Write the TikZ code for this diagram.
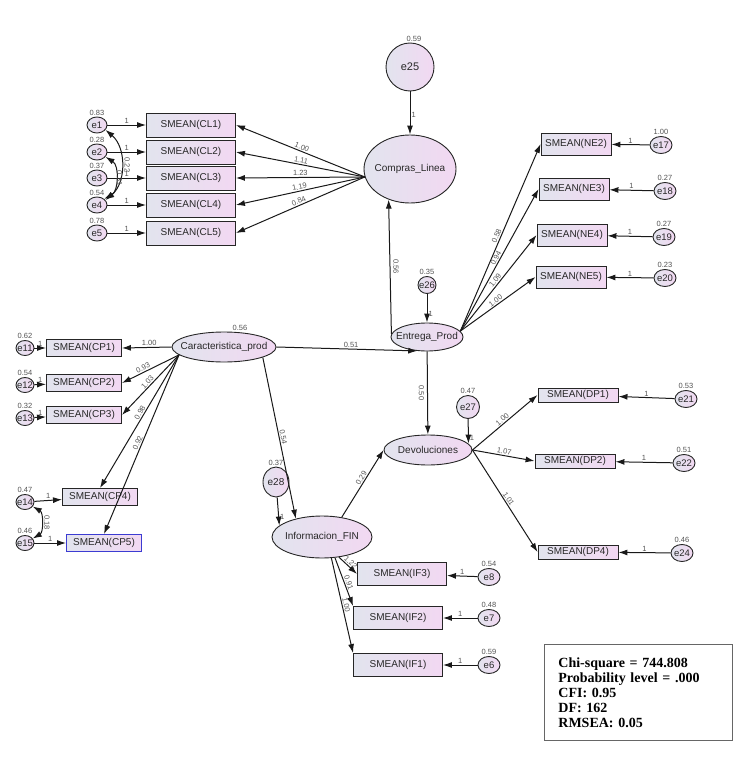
\documentclass[tikz,border=0pt]{standalone}
\usepackage{fontspec}
\setmainfont{Liberation Sans}
\newfontfamily\statfont{Liberation Serif}
\usetikzlibrary{arrows.meta,shapes.geometric}
\definecolor{fillL}{RGB}{226,228,238}
\definecolor{fillR}{RGB}{242,216,242}
\definecolor{txt}{RGB}{40,40,40}
\definecolor{cpblue}{RGB}{60,60,210}
\newcommand{\inl}[1]{\makebox[0pt]{#1}}
\begin{document}
\begin{tikzpicture}[x=1pt,y=-1pt,
    >={Latex[length=9pt,width=6pt]},
    obs/.style={rectangle,draw=black!85,line width=0.9pt,left color=fillL,right color=fillR,inner sep=0pt,text=txt,font=\fontsize{10}{12}\selectfont},
    clbox/.style={obs,minimum width=89pt,minimum height=24pt},
    cpbox/.style={obs,minimum width=75pt,minimum height=17pt},
    nebox/.style={obs,minimum width=70pt,minimum height=22pt},
    dpbox/.style={obs,minimum width=80pt,minimum height=14pt},
    ifbox/.style={obs,minimum width=89pt,minimum height=23pt},
    lat/.style={ellipse,draw=black!85,line width=0.9pt,left color=fillL,right color=fillR,inner sep=0pt,text=txt,font=\fontsize{10}{12}\selectfont},
    errs/.style={lat,minimum width=20pt,minimum height=16pt,font=\fontsize{9.5}{11}\selectfont},
    errr/.style={lat,minimum width=22pt,minimum height=17pt,font=\fontsize{9.5}{11}\selectfont},
    arr/.style={->,draw=black!90,line width=1pt},
    cov/.style={<->,draw=black!90,line width=1pt},
    num/.style={font=\fontsize{7.5}{8}\selectfont,text=txt!80,inner sep=1pt},
    var/.style={num}]
  \useasboundingbox (0,0) rectangle (736,768);

  \node[lat,minimum width=92pt,minimum height=68pt] (compras) at (410,169) {\inl{Compras\_Linea}};
  \node[lat,circle,minimum size=48pt,font=\fontsize{11}{12}\selectfont,label={[var,xshift=4pt]above:0.59}] (e25) at (410,67) {e25};
  \draw[arr] (e25) -- node[num,right,pos=.55]{1} (compras);

  \node[clbox] (cl1) at (191,125) {SMEAN(CL1)};
  \node[clbox] (cl2) at (191,152) {SMEAN(CL2)};
  \node[clbox] (cl3) at (191,178) {SMEAN(CL3)};
  \node[clbox] (cl4) at (191,205) {SMEAN(CL4)};
  \node[clbox] (cl5) at (191,233) {SMEAN(CL5)};
  \node[errs,label={[var]above:0.83}] (e1) at (97,125) {e1};
  \node[errs,label={[var]above:0.28}] (e2) at (97,152) {e2};
  \node[errs,label={[var]above:0.37}] (e3) at (97,178) {e3};
  \node[errs,label={[var]above:0.54}] (e4) at (97,205) {e4};
  \node[errs,label={[var]above:0.78}] (e5) at (97,233) {e5};
  \draw[arr] (e1) -- node[num,above]{1} (cl1);
  \draw[arr] (e2) -- node[num,above]{1} (cl2);
  \draw[arr] (e3) -- node[num,above]{1} (cl3);
  \draw[arr] (e4) -- node[num,above]{1} (cl4);
  \draw[arr] (e5) -- node[num,above]{1} (cl5);
  \draw[cov] (e1.-30) to[bend left=50] node[num,xshift=6pt,rotate=-90]{0.22} (e4.30);
  \draw[cov] (e2.-30) to[bend left=60] node[num,xshift=4pt,rotate=-90]{0.31} (e4.40);
  \draw[arr] (compras.190) -- node[num,above,sloped]{1.00} (cl1.east);
  \draw[arr] (compras.190) -- node[num,above,sloped]{1.11} (cl2.east);
  \draw[arr] (compras.190) -- node[num,above,sloped]{1.23} (cl3.east);
  \draw[arr] (compras.190) -- node[num,above,sloped]{1.19} (cl4.east);
  \draw[arr] (compras.190) -- node[num,above,sloped]{0.84} (cl5.east);

  \node[lat,minimum width=104pt,minimum height=30pt,label={[var,xshift=16pt]above:0.56}] (caract) at (224,347) {\inl{Caracteristica\_prod}};
  \node[cpbox] (cp1) at (84,348) {SMEAN(CP1)};
  \node[cpbox] (cp2) at (84,383) {SMEAN(CP2)};
  \node[cpbox] (cp3) at (84,415) {SMEAN(CP3)};
  \node[cpbox] (cp4) at (100,497) {SMEAN(CP4)};
  \node[cpbox,draw=cpblue] (cp5) at (104,543) {SMEAN(CP5)};
  \node[errs,minimum width=18pt,minimum height=15pt,label={[var]above:0.62}] (e11) at (25,348) {\inl{e11}};
  \node[errs,minimum width=18pt,minimum height=15pt,label={[var]above:0.54}] (e12) at (25,385) {\inl{e12}};
  \node[errs,minimum width=18pt,minimum height=15pt,label={[var]above:0.32}] (e13) at (25,418) {\inl{e13}};
  \node[errs,minimum width=18pt,minimum height=15pt,label={[var]above:0.47}] (e14) at (25,502) {\inl{e14}};
  \node[errs,minimum width=18pt,minimum height=15pt,label={[var]above:0.46}] (e15) at (25,543) {\inl{e15}};
  \draw[arr] (e11) -- node[num,above]{1} (cp1);
  \draw[arr] (e12) -- node[num,above]{1} (cp2);
  \draw[arr] (e13) -- node[num,above]{1} (cp3);
  \draw[arr] (e14) -- node[num,above]{1} (cp4);
  \draw[arr] (e15) -- node[num,above]{1} (cp5);
  \draw[cov] (e14.-30) to[bend left=60] node[num,xshift=6pt,rotate=-90]{0.18} (e15.30);
  \draw[arr] (caract.west) -- node[num,above,pos=.45]{1.00} (cp1.east);
  \draw[arr] (caract.190) -- node[num,above,sloped,pos=.6]{0.93} (cp2.east);
  \draw[arr] (caract.190) -- node[num,above,sloped,pos=.5]{1.03} (cp3.east);
  \draw[arr] (caract.190) -- node[num,above,sloped,pos=.45]{0.98} (cp4.north);
  \draw[arr] (caract.190) -- node[num,above,sloped,pos=.5]{0.92} (cp5.north);

  \node[lat,minimum width=72pt,minimum height=28pt] (entrega) at (427,337) {\inl{Entrega\_Prod}};
  \node[errs,minimum width=18pt,minimum height=17pt,label={[var]above:0.35}] (e26) at (427,285) {\inl{e26}};
  \draw[arr] (e26) -- node[num,right,pos=.7]{1} (entrega);
  \draw[arr] (caract.east) -- node[num,above,pos=.53]{0.51} (entrega.235);
  \draw[arr] (entrega.175) -- node[num,xshift=6pt,rotate=-90]{0.56} (compras.235);
  \node[nebox] (ne2) at (576,144) {SMEAN(NE2)};
  \node[nebox] (ne3) at (574,189) {SMEAN(NE3)};
  \node[nebox] (ne4) at (572,235) {SMEAN(NE4)};
  \node[nebox] (ne5) at (571,277) {SMEAN(NE5)};
  \node[errr,label={[var]above:1.00}] (e17) at (661,145) {\inl{e17}};
  \node[errr,label={[var]above:0.27}] (e18) at (665,191) {\inl{e18}};
  \node[errr,label={[var]above:0.27}] (e19) at (664,237) {\inl{e19}};
  \node[errr,label={[var]above:0.23}] (e20) at (665,278) {\inl{e20}};
  \draw[arr] (e17) -- node[num,above]{1} (ne2);
  \draw[arr] (e18) -- node[num,above]{1} (ne3);
  \draw[arr] (e19) -- node[num,above]{1} (ne4);
  \draw[arr] (e20) -- node[num,above]{1} (ne5);
  \draw[arr] (entrega.10) -- node[num,above,sloped]{0.58} (ne2.west);
  \draw[arr] (entrega.10) -- node[num,above,sloped]{0.94} (ne3.west);
  \draw[arr] (entrega.10) -- node[num,above,sloped]{1.09} (ne4.west);
  \draw[arr] (entrega.10) -- node[num,above,sloped]{1.00} (ne5.west);

  \node[lat,minimum width=88pt,minimum height=30pt] (devol) at (428,450) {\inl{Devoluciones}};
  \node[errs,minimum width=23pt,minimum height=23pt,label={[var]above:0.47}] (e27) at (468,407) {\inl{e27}};
  \draw[arr] (e27) -- node[num,right,pos=.75]{1} (devol.9);
  \draw[arr] (entrega) -- node[num,xshift=-6pt,rotate=-90]{0.50} (devol);
  \node[dpbox] (dp1) at (578,395) {SMEAN(DP1)};
  \node[dpbox] (dp2) at (575,461) {SMEAN(DP2)};
  \node[dpbox] (dp4) at (578,552) {SMEAN(DP4)};
  \node[errr,label={[var]above:0.53}] (e21) at (686,399) {\inl{e21}};
  \node[errr,label={[var]above:0.51}] (e22) at (684,463) {\inl{e22}};
  \node[errr,label={[var]above:0.46}] (e24) at (682,553) {\inl{e24}};
  \draw[arr] (e21) -- node[num,above]{1} (dp1);
  \draw[arr] (e22) -- node[num,above]{1} (dp2);
  \draw[arr] (e24) -- node[num,above]{1} (dp4);
  \draw[arr] (devol.east) -- node[num,above,sloped]{1.00} (dp1.west);
  \draw[arr] (devol.east) -- node[num,above,sloped]{1.07} (dp2.west);
  \draw[arr] (devol.east) -- node[num,above,sloped]{1.01} (dp4.west);

  \node[lat,minimum width=100pt,minimum height=42pt] (infofin) at (322,537) {\inl{Informacion\_FIN}};
  \node[errs,minimum width=26pt,minimum height=30pt,font=\fontsize{10}{12}\selectfont,label={[var]above:0.37}] (e28) at (276,482) {\inl{e28}};
  \draw[arr] (e28) -- node[num,right,pos=.7]{1} (infofin.165);
  \draw[arr] (caract.-15) -- node[num,above,sloped]{0.54} (infofin.145);
  \draw[arr] (infofin.45) -- node[num,above,sloped,pos=.55]{0.29} (devol.west);
  \node[ifbox] (if3) at (402,574) {SMEAN(IF3)};
  \node[ifbox] (if2) at (398,618) {SMEAN(IF2)};
  \node[ifbox] (if1) at (398,665) {SMEAN(IF1)};
  \node[errr,label={[var]above:0.54}] (e8) at (489,577) {e8};
  \node[errr,label={[var]above:0.48}] (e7) at (489,618) {e7};
  \node[errr,label={[var]above:0.59}] (e6) at (489,665) {e6};
  \draw[arr] (e8) -- node[num,above]{1} (if3);
  \draw[arr] (e7) -- node[num,above]{1} (if2);
  \draw[arr] (e6) -- node[num,above]{1} (if1);
  \draw[arr] (infofin.-50) -- node[num,above,sloped,pos=.5]{1.22} (if3.west);
  \draw[arr] (infofin.-58) -- node[num,above,sloped,pos=.55]{0.91} (if2.north west);
  \draw[arr] (infofin.-66) -- node[num,above,sloped,pos=.5]{1.00} (if1.north west);

  \node[draw=black!60,line width=0.8pt,anchor=north west,minimum width=188pt,minimum height=96pt,text width=160pt,inner xsep=14pt,align=left,font=\statfont\bfseries\fontsize{14}{15}\selectfont] (fit) at (544,644) {Chi-square = 744.808\\Probability level = .000\\CFI: 0.95\\DF: 162\\RMSEA: 0.05};
\end{tikzpicture}
\end{document}
